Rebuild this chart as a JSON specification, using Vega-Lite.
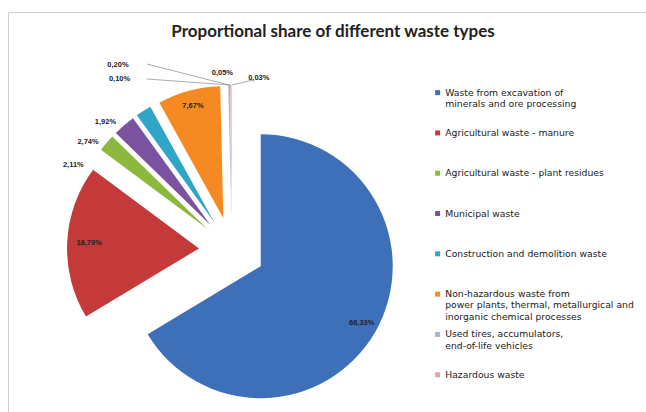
{
  "$schema": "https://vega.github.io/schema/vega-lite/v6.json",
  "autosize": {"type": "none"},
  "width": 660,
  "height": 400,
  "padding": {"left": 8, "top": 12, "right": 0, "bottom": 0},
  "background": "white",
  "config": {
    "view": {"stroke": "#cfcfcf", "strokeWidth": 1},
    "font": "Liberation Sans"
  },
  "title": {
    "text": "Proportional share of different waste types",
    "font": "Lato",
    "fontSize": 17,
    "fontWeight": "bold",
    "color": "#222222",
    "anchor": "middle",
    "dx": -5,
    "offset": -29
  },
  "data": {
    "values": [
      {"c": "Waste from excavation  of minerals and ore processing", "v": 66.33},
      {"c": "Agricultural waste - manure", "v": 18.79},
      {"c": "Agricultural waste - plant residues", "v": 2.11},
      {"c": "Municipal waste", "v": 2.74},
      {"c": "Construction and demolition waste", "v": 1.92},
      {"c": "Non-hazardous waste from power plants, thermal, metallurgical and inorganic chemical processes", "v": 7.67},
      {"c": "Used tires, accumulators, end-of-life vehicles", "v": 0.20},
      {"c": "Hazardous waste", "v": 0.10},
      {"c": "Other waste (a)", "v": 0.05},
      {"c": "Other waste (b)", "v": 0.03}
    ]
  },
  "transform": [
    {"joinaggregate": [{"op": "sum", "field": "v", "as": "total"}]},
    {"window": [{"op": "sum", "field": "v", "as": "cum"}], "frame": [null, 0]},
    {"calculate": "(datum.cum - datum.v) / datum.total * 2 * PI", "as": "a0"},
    {"calculate": "datum.cum / datum.total * 2 * PI", "as": "a1"},
    {"calculate": "(datum.a0 + datum.a1) / 2", "as": "m"},
    {"calculate": "33 * sin(datum.m)", "as": "ex"},
    {"calculate": "33 * cos(datum.m)", "as": "ey"},
    {"calculate": "datum.ex + 132 * sin(datum.m)", "as": "tx"},
    {"calculate": "datum.ey + 132 * cos(datum.m)", "as": "ty"},
    {"calculate": "datum.v > 50 ? 116 : (datum.v > 10 ? 110 : (datum.v > 5 ? 116 : (datum.v > 1 ? 148 : 140)))", "as": "rl"},
    {"calculate": "datum.v > 5 ? datum.m : (datum.v > 1 ? datum.m - 0.26 : datum.m)", "as": "ml"},
    {"calculate": "datum.ex + datum.rl * sin(datum.ml)", "as": "lx"},
    {"calculate": "datum.ey + datum.rl * cos(datum.ml)", "as": "ly"},
    {"calculate": "replace(format(datum.v, '.2f'), '.', ',') + '%'", "as": "lab"}
  ],
  "layer": [
    {
      "mark": {"type": "arc", "radius": 132},
      "encoding": {
        "x": {"field": "ex", "type": "quantitative", "scale": {"domain": [-224, 436], "nice": false, "zero": false}, "axis": null},
        "y": {"field": "ey", "type": "quantitative", "scale": {"domain": [-162, 238], "nice": false, "zero": false}, "axis": null},
        "theta": {"field": "a0", "type": "quantitative", "scale": {"domain": [0, 6.283185307], "range": [0, 6.283185307]}, "stack": null},
        "theta2": {"field": "a1"},
        "color": {
          "field": "c",
          "type": "nominal",
          "sort": null,
          "scale": {
            "domain": [
              "Waste from excavation  of minerals and ore processing",
              "Agricultural waste - manure",
              "Agricultural waste - plant residues",
              "Municipal waste",
              "Construction and demolition waste",
              "Non-hazardous waste from power plants, thermal, metallurgical and inorganic chemical processes",
              "Used tires, accumulators, end-of-life vehicles",
              "Hazardous waste",
              "Other waste (a)",
              "Other waste (b)"
            ],
            "range": ["#3E70BA", "#C43A3A", "#8DB83E", "#7A52A0", "#2FA6C8", "#F58A22", "#A7B6CF", "#E4A3AA", "#B9A9D3", "#C9D9A5"]
          },
          "legend": {
            "title": null,
            "orient": "none",
            "legendX": 425,
            "legendY": 76,
            "values": [
              "Waste from excavation  of minerals and ore processing",
              "Agricultural waste - manure",
              "Agricultural waste - plant residues",
              "Municipal waste",
              "Construction and demolition waste",
              "Non-hazardous waste from power plants, thermal, metallurgical and inorganic chemical processes",
              "Used tires, accumulators, end-of-life vehicles",
              "Hazardous waste"
            ],
            "symbolType": "square",
            "symbolSize": 25,
            "symbolStrokeWidth": 0,
            "labelFont": "DejaVu Sans",
            "labelFontSize": 9.25,
            "labelColor": "#1a1a1a",
            "labelOffset": 3,
            "labelLimit": 300,
            "rowPadding": 7.3,
            "labelExpr": "indexof(datum.label,'excavation')>=0 ? ['Waste from excavation  of','minerals and ore processing',''] : indexof(datum.label,'Non-hazardous')>=0 ? ['Non-hazardous waste from','power plants, thermal, metallurgical and','inorganic chemical processes'] : indexof(datum.label,'Used tires')>=0 ? ['Used tires, accumulators,','end-of-life vehicles',''] : [datum.label,'','']"
          }
        }
      }
    },
    {
      "transform": [{"filter": "datum.v > 1"}],
      "mark": {"type": "text", "fontSize": 7.5, "fontWeight": "bold", "color": "#222222", "font": "Liberation Sans"},
      "encoding": {
        "x": {"field": "lx", "type": "quantitative", "scale": {"domain": [-224, 436], "nice": false, "zero": false}, "axis": null},
        "y": {"field": "ly", "type": "quantitative", "scale": {"domain": [-162, 238], "nice": false, "zero": false}, "axis": null},
        "text": {"field": "lab"}
      }
    },
    {
      "transform": [{"filter": "datum.v == 0.2"}, {"calculate": "datum.tx - 82", "as": "ex2"}, {"calculate": "datum.ty + 21", "as": "ey2"}],
      "mark": {"type": "rule", "color": "#8a8a8a", "strokeWidth": 0.7},
      "encoding": {
        "x": {"field": "tx", "type": "quantitative"},
        "y": {"field": "ty", "type": "quantitative"},
        "x2": {"field": "ex2"},
        "y2": {"field": "ey2"}
      }
    },
    {
      "transform": [{"filter": "datum.v == 0.1"}, {"calculate": "datum.tx - 84", "as": "ex2"}, {"calculate": "datum.ty + 6", "as": "ey2"}],
      "mark": {"type": "rule", "color": "#8a8a8a", "strokeWidth": 0.7},
      "encoding": {
        "x": {"field": "tx", "type": "quantitative"},
        "y": {"field": "ty", "type": "quantitative"},
        "x2": {"field": "ex2"},
        "y2": {"field": "ey2"}
      }
    },
    {
      "transform": [{"filter": "datum.v == 0.03"}, {"calculate": "datum.tx + 21", "as": "ex2"}, {"calculate": "datum.ty + 5", "as": "ey2"}],
      "mark": {"type": "rule", "color": "#8a8a8a", "strokeWidth": 0.7},
      "encoding": {
        "x": {"field": "tx", "type": "quantitative"},
        "y": {"field": "ty", "type": "quantitative"},
        "x2": {"field": "ex2"},
        "y2": {"field": "ey2"}
      }
    },
    {
      "transform": [{"filter": "datum.v == 0.2"}],
      "mark": {"type": "text", "fontSize": 7.5, "fontWeight": "bold", "color": "#222222", "dx": -111, "dy": -12},
      "encoding": {
        "x": {"field": "lx", "type": "quantitative"},
        "y": {"field": "ly", "type": "quantitative"},
        "text": {"field": "lab"}
      }
    },
    {
      "transform": [{"filter": "datum.v == 0.1"}],
      "mark": {"type": "text", "fontSize": 7.5, "fontWeight": "bold", "color": "#222222", "dx": -111, "dy": 2},
      "encoding": {
        "x": {"field": "lx", "type": "quantitative"},
        "y": {"field": "ly", "type": "quantitative"},
        "text": {"field": "lab"}
      }
    },
    {
      "transform": [{"filter": "datum.v == 0.05"}],
      "mark": {"type": "text", "fontSize": 7.5, "fontWeight": "bold", "color": "#222222", "dx": -9, "dy": -4},
      "encoding": {
        "x": {"field": "lx", "type": "quantitative"},
        "y": {"field": "ly", "type": "quantitative"},
        "text": {"field": "lab"}
      }
    },
    {
      "transform": [{"filter": "datum.v == 0.03"}],
      "mark": {"type": "text", "fontSize": 7.5, "fontWeight": "bold", "color": "#222222", "dx": 27, "dy": 1},
      "encoding": {
        "x": {"field": "lx", "type": "quantitative"},
        "y": {"field": "ly", "type": "quantitative"},
        "text": {"field": "lab"}
      }
    }
  ]
}
